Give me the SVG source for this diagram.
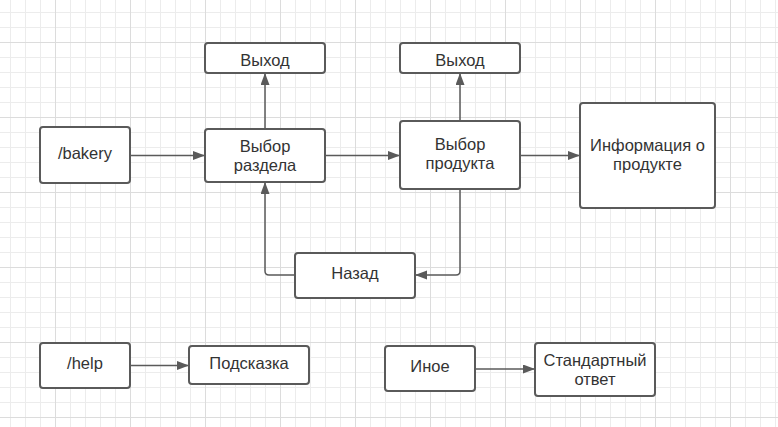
<svg xmlns="http://www.w3.org/2000/svg" width="778" height="427" viewBox="0 0 778 427">
<style>
.box{fill:#ffffff;stroke:#5a5a5a;stroke-width:2}
.lbl{font-family:"Liberation Sans",Arial,sans-serif;font-size:16.5px;fill:#333333;text-anchor:middle}
.con{fill:none;stroke:#5a5a5a;stroke-width:1.5}
</style>
<defs>
<pattern id="grid" patternUnits="userSpaceOnUse" x="55" y="42" width="75" height="75">
<rect x="0" y="0" width="75" height="75" fill="#ffffff"/>
<rect x="15" y="0" width="1" height="75" fill="#ececec"/>
<rect x="30" y="0" width="1" height="75" fill="#ececec"/>
<rect x="45" y="0" width="1" height="75" fill="#ececec"/>
<rect x="60" y="0" width="1" height="75" fill="#ececec"/>
<rect x="0" y="15" width="75" height="1" fill="#ececec"/>
<rect x="0" y="30" width="75" height="1" fill="#ececec"/>
<rect x="0" y="45" width="75" height="1" fill="#ececec"/>
<rect x="0" y="60" width="75" height="1" fill="#ececec"/>
<rect x="0" y="0" width="1" height="75" fill="#dcdcdc"/>
<rect x="0" y="0" width="75" height="1" fill="#dcdcdc"/>
</pattern>
<marker id="arr" markerUnits="userSpaceOnUse" markerWidth="13" markerHeight="10" refX="12" refY="4.5" orient="auto">
<path d="M0,0 L12,4.5 L0,9 z" fill="#5a5a5a"/>
</marker>
</defs>
<rect x="0" y="0" width="778" height="427" fill="url(#grid)"/>

<g id="connectors">
<path class="con" d="M130,155.5 H205" marker-end="url(#arr)"/>
<path class="con" d="M265,129 V73" marker-end="url(#arr)"/>
<path class="con" d="M325,155.5 H400" marker-end="url(#arr)"/>
<path class="con" d="M460,121 V73" marker-end="url(#arr)"/>
<path class="con" d="M520,155.5 H580" marker-end="url(#arr)"/>
<path class="con" d="M460,189 V271 Q460,275 456,275 H415" marker-end="url(#arr)"/>
<path class="con" d="M295,275 H269 Q265,275 265,271 V182" marker-end="url(#arr)"/>
<path class="con" d="M130,365.5 H189" marker-end="url(#arr)"/>
<path class="con" d="M475,369 H535" marker-end="url(#arr)"/>
</g>

<g id="bakery">
<rect class="box" x="40" y="127" width="90" height="56" rx="3"/>
<text class="lbl" x="85" y="159">/bakery</text>
</g>
<g id="exit1">
<rect class="box" x="205" y="43" width="120" height="30" rx="3"/>
<text class="lbl" x="265" y="66">Выход</text>
</g>
<g id="section">
<rect class="box" x="205" y="129" width="120" height="53" rx="3"/>
<text class="lbl" x="265" y="152">Выбор</text>
<text class="lbl" x="265" y="171">раздела</text>
</g>
<g id="exit2">
<rect class="box" x="400" y="43" width="120" height="30" rx="3"/>
<text class="lbl" x="460" y="66">Выход</text>
</g>
<g id="product">
<rect class="box" x="400" y="121" width="120" height="68" rx="3"/>
<text class="lbl" x="460" y="149.5">Выбор</text>
<text class="lbl" x="460" y="169">продукта</text>
</g>
<g id="info">
<rect class="box" x="580" y="103" width="135" height="105" rx="3"/>
<text class="lbl" x="647.5" y="150.5">Информация о</text>
<text class="lbl" x="647.5" y="170">продукте</text>
</g>
<g id="back">
<rect class="box" x="295" y="253" width="120" height="45" rx="3"/>
<text class="lbl" x="355" y="279">Назад</text>
</g>
<g id="help">
<rect class="box" x="40" y="343" width="90" height="45" rx="3"/>
<text class="lbl" x="85" y="369">/help</text>
</g>
<g id="hint">
<rect class="box" x="189" y="346" width="120" height="38" rx="3"/>
<text class="lbl" x="249" y="369">Подсказка</text>
</g>
<g id="other">
<rect class="box" x="385" y="346" width="90" height="45" rx="3"/>
<text class="lbl" x="430" y="372">Иное</text>
</g>
<g id="standard">
<rect class="box" x="535" y="343" width="120" height="53" rx="3"/>
<text class="lbl" x="595" y="366">Стандартный</text>
<text class="lbl" x="595" y="385">ответ</text>
</g>
</svg>
